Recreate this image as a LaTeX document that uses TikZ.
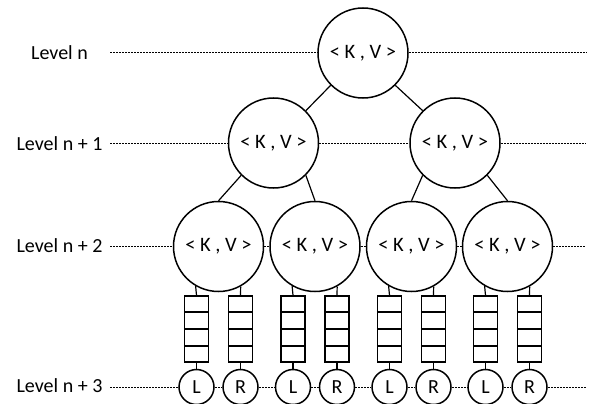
\documentclass[tikz,border=0pt]{standalone}
\usepackage{fontspec}
\setmainfont{Carlito}
\usetikzlibrary{calc}
\begin{document}
\begin{tikzpicture}[x=1pt,y=-1pt,
  kv/.style={draw, circle, line width=1.5pt, minimum size=90pt, inner sep=0pt, font=\fontsize{20.5}{22}\selectfont},
  leaf/.style={draw, circle, line width=1.5pt, minimum size=35pt, inner sep=0pt, font=\fontsize{20}{22}\selectfont},
  queue/.style={draw, rectangle, line width=1.5pt, minimum width=24pt, minimum height=66pt, inner sep=0pt},
  edge/.style={line width=1.2pt},
  lvl/.style={dash pattern=on 2pt off 1pt, line width=1pt},
  lbl/.style={font=\fontsize{20}{22}\selectfont, anchor=center}]
\useasboundingbox (0,0) rectangle (589,404);
% labels
\node[lbl] (l0) at (59.5,53) {Level n};
\node[lbl] (l1) at (59.5,144) {Level n + 1};
\node[lbl] (l2) at (59.5,246) {Level n + 2};
\node[lbl] (l3) at (59.5,386) {Level n + 3};
\coordinate (s0) at (110,53);
\coordinate (s1) at (110,143);
\coordinate (s2) at (110,246.5);
\coordinate (s3) at (110,387);
\coordinate (e0) at (586,53);
\coordinate (e1) at (586,143);
\coordinate (e2) at (586,246.5);
\coordinate (e3) at (586,387);
% tree
\node[kv] (t) at (363,53) {< K , V >};
\node[kv] (a) at (273.5,143) {< K , V >};
\node[kv] (b) at (455,143) {< K , V >};
\node[kv] (c1) at (218.5,246.5) {< K , V >};
\node[kv] (c2) at (315,246.5) {< K , V >};
\node[kv] (c3) at (411.5,246.5) {< K , V >};
\node[kv] (c4) at (507.5,246.5) {< K , V >};
\draw[edge] (t.south west) -- (a.north east);
\draw[edge] (t.south east) -- (b.north west);
\draw[edge] (a.south west) -- (c1.north);
\draw[edge] (a.south east) -- (c2.north);
\draw[edge] (b.south west) -- (c3.north);
\draw[edge] (b.south east) -- (c4.north);
% queues and leaves
\foreach \c/\x in {c1/218.5, c2/315, c3/411.5, c4/507.5} {
  \node[queue] (\c ql) at (\x-22,329) {};
  \node[queue] (\c qr) at (\x+22,329) {};
  \node[leaf] (\c L) at (\x-22,387) {L};
  \node[leaf] (\c R) at (\x+22,387) {R};
  \foreach \s in {ql,qr} {
    \foreach \i in {1,2,3}
      \draw[line width=1.5pt] ($(\c\s.north west)!\i/4!(\c\s.south west)$) -- ($(\c\s.north east)!\i/4!(\c\s.south east)$);
  }
  \draw[edge] (\c.240.8) -- (\c ql.north);
  \draw[edge] (\c.299.2) -- (\c qr.north);
  \draw[edge] (\c ql.south) -- (\c L.north);
  \draw[edge] (\c qr.south) -- (\c R.north);
}
% level lines
\draw[lvl] (s0) -- (t.west);
\draw[lvl] (t.east) -- (e0);
\draw[lvl] (s1) -- (a.west);
\draw[lvl] (a.east) -- (b.west);
\draw[lvl] (b.east) -- (e1);
\draw[lvl] (s2) -- (c1.west);
\draw[lvl] (c1.east) -- (c2.west);
\draw[lvl] (c2.east) -- (c3.west);
\draw[lvl] (c3.east) -- (c4.west);
\draw[lvl] (c4.east) -- (e2);
\draw[lvl] (s3) -- (c1L.west);
\draw[lvl] (c1L.east) -- (c1R.west);
\draw[lvl] (c1R.east) -- (c2L.west);
\draw[lvl] (c2L.east) -- (c2R.west);
\draw[lvl] (c2R.east) -- (c3L.west);
\draw[lvl] (c3L.east) -- (c3R.west);
\draw[lvl] (c3R.east) -- (c4L.west);
\draw[lvl] (c4L.east) -- (c4R.west);
\draw[lvl] (c4R.east) -- (e3);
\end{tikzpicture}
\end{document}
